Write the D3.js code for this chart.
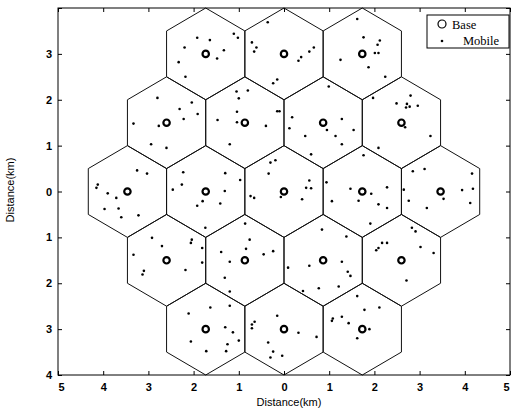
<!DOCTYPE html>
<html>
<head>
<meta charset="utf-8">
<script src="https://cdn.jsdelivr.net/npm/d3@7"></script>
<style>
  body { margin: 0; background: #fff; }
  svg { display: block; }
</style>
</head>
<body>
<div id="chart"></div>
<script>
// base stations (km)
const baseX = [-1.732, 0, 1.732,
               -2.598, -0.866, 0.866, 2.598,
               -3.464, -1.732, 0, 1.732, 3.464,
               -2.598, -0.866, 0.866, 2.598,
               -1.732, 0, 1.732];
const baseY = [3, 3, 3,
               1.5, 1.5, 1.5, 1.5,
               0, 0, 0, 0, 0,
               -1.5, -1.5, -1.5, -1.5,
               -3, -3, -3];
const cellRadius = 1;

// mobiles (km)
const mobileX = [-1.92,-1.64,-2.20,-1.11,-1.02,-1.33,-1.48,-2.33,-2.18,
  -0.36,-0.71,-0.61,-0.66,0.66,0.56,0.38,0.32,-0.15,-0.24,
  1.62,1.76,2.12,2.07,2.01,2.09,1.25,1.87,2.24,
  -2.80,-2.04,-2.31,-1.91,-2.22,-3.33,-2.77,
  -1.05,-0.80,-1.00,-1.04,-0.15,-0.10,-1.47,-1.04,-0.40,
  0.99,0.18,1.28,0.12,0.95,1.54,
  1.97,2.80,2.49,2.72,2.78,2.96,2.70,2.68,
  -2.94,-2.60,-1.20,0.47,1.14,1.28,0.60,2.09,1.76,3.24,
  -3.25,-3.03,-4.12,-4.15,-3.90,-3.71,-3.97,-3.66,-3.60,-3.22,
  -2.23,-1.30,-0.97,-2.26,-2.46,-1.31,-1.80,-1.92,-1.41,
  -0.30,-0.19,-0.34,0.56,0.49,0.60,-0.74,-0.66,-0.07,0.40,
  0.94,1.47,2.28,1.93,1.65,1.06,2.09,2.28,
  2.85,3.11,4.16,2.65,3.94,4.18,2.76,3.53,4.12,3.16,
  -1.74,-0.86,0.84,1.38,1.91,2.83,2.91,
  -2.92,-2.70,-2.04,-2.06,-1.81,-1.39,-0.76,-0.84,-0.24,
  2.17,2.28,2.09,2.04,3.02,3.31,
  -3.33,-3.10,-3.13,-2.18,-1.81,-1.20,-0.45,-1.31,-1.20,
  0.09,0.56,1.28,1.41,1.47,0.42,0.77,1.21,2.71,
  -1.63,-1.20,-2.11,-1.30,-1.13,-1.00,-2.06,-1.25,-1.72,-1.28,
  -0.15,-0.71,-0.65,-0.71,0.32,0.72,-0.35,-0.24,-0.30,-0.04,
  1.62,2.11,1.78,1.08,1.06,1.28,1.43,1.89,1.62];
const mobileY = [3.35,3.30,3.14,3.44,3.35,3.08,2.90,2.82,2.50,
  3.69,3.25,3.14,3.05,3.14,3.05,2.93,2.85,2.44,2.36,
  3.76,3.36,3.29,3.20,3.02,3.02,2.87,2.71,2.50,
  2.04,1.94,1.80,1.69,1.58,1.48,1.43,
  2.18,2.20,2.03,1.74,1.75,1.75,1.56,1.51,1.43,
  2.29,1.62,1.58,1.38,1.34,1.34,
  2.04,2.09,1.92,1.91,1.85,1.87,1.83,1.40,
  1.03,0.95,1.03,1.21,1.21,1.03,0.81,0.95,0.79,1.21,
  0.46,0.39,0.15,0.08,-0.04,-0.14,-0.38,-0.37,-0.56,-0.52,
  0.42,0.40,0.25,0.15,0.04,0.01,-0.21,-0.31,-0.26,
  0.63,0.68,0.39,0.24,0.08,0.07,-0.10,-0.14,-0.12,-0.17,
  0.20,0.06,0.09,-0.05,-0.20,-0.21,-0.28,-0.36,
  0.44,0.49,0.39,0.04,0.03,0.06,-0.20,-0.16,-0.25,-0.36,
  -0.79,-0.70,-0.83,-0.98,-0.70,-0.79,-0.87,
  -1.01,-1.19,-1.05,-1.12,-1.23,-1.32,-1.05,-1.25,-1.30,
  -1.12,-1.12,-1.23,-1.28,-1.21,-1.34,
  -1.38,-1.73,-1.81,-1.71,-1.55,-1.53,-1.37,-1.88,-2.18,
  -1.66,-1.62,-1.53,-1.75,-1.84,-2.17,-2.11,-2.07,-1.94,
  -2.53,-2.49,-2.66,-2.96,-3.07,-3.25,-3.27,-3.33,-3.48,-3.48,
  -2.71,-2.90,-2.84,-2.98,-3.08,-3.17,-3.29,-3.49,-3.62,-3.58,
  -2.28,-2.53,-2.58,-2.77,-2.82,-2.73,-2.87,-3.00,-3.20];

const xTicks = [-5, -4, -3, -2, -1, 0, 1, 2, 3, 4, 5];
const yTicks = [-4, -3, -2, -1, 0, 1, 2, 3, 4];
const legendLabels = ["Base", "Mobile"];

const width = 511, height = 412;
const margin = {left: 58, right: 1, top: 8, bottom: 37};

const svg = d3.select("#chart").append("svg")
  .attr("width", width).attr("height", height);

const x = d3.scaleLinear().domain([-5, 5]).range([margin.left, width - margin.right]);
const y = d3.scaleLinear().domain([-4, 4]).range([height - margin.bottom, margin.top]);

// hexagon cells
const hexPoints = (cx, cy) => d3.range(6).map(k => {
  const a = Math.PI / 2 + k * Math.PI / 3;
  return [x(cx + cellRadius * Math.cos(a)), y(cy + cellRadius * Math.sin(a))];
});
const bases = baseX.map((bx, i) => ({x: bx, y: baseY[i]}));

svg.append("g").selectAll("polygon")
  .data(bases)
  .enter().append("polygon")
  .attr("points", d => hexPoints(d.x, d.y).map(p => p.join(",")).join(" "))
  .attr("fill", "none")
  .attr("stroke", "#111")
  .attr("stroke-width", 1);

// mobiles
svg.append("g").selectAll("circle")
  .data(mobileX.map((mx, i) => ({x: mx, y: mobileY[i]})))
  .enter().append("circle")
  .attr("cx", d => x(d.x))
  .attr("cy", d => y(d.y))
  .attr("r", 1.3)
  .attr("fill", "#000");

// base stations
svg.append("g").selectAll("circle")
  .data(bases)
  .enter().append("circle")
  .attr("cx", d => x(d.x))
  .attr("cy", d => y(d.y))
  .attr("r", 3.2)
  .attr("fill", "none")
  .attr("stroke", "#000")
  .attr("stroke-width", 2.2);

// axes (box with inward ticks, labels show distance from centre)
const fmt = d => String(Math.abs(d));
const xb = height - margin.bottom;
const xr = width - margin.right;

svg.append("g")
  .attr("transform", `translate(0,${xb})`)
  .call(d3.axisBottom(x).tickValues(xTicks).tickSizeInner(-4).tickSizeOuter(0).tickPadding(8).tickFormat(fmt))
  .call(g => g.select(".domain").remove())
  .call(g => g.selectAll(".tick text")
    .attr("dx", d => d === -5 ? 3 : d === 5 ? -4 : 0));
svg.append("g")
  .attr("transform", `translate(0,${margin.top})`)
  .call(d3.axisTop(x).tickValues(xTicks).tickSizeInner(-4).tickSizeOuter(0).tickFormat(""))
  .call(g => g.select(".domain").remove());
svg.append("g")
  .attr("transform", `translate(${margin.left},0)`)
  .call(d3.axisLeft(y).tickValues(yTicks).tickSizeInner(-4).tickSizeOuter(0).tickPadding(6)
    .tickFormat(d => d === 4 ? "" : fmt(d)))
  .call(g => g.select(".domain").remove());
svg.append("g")
  .attr("transform", `translate(${xr},0)`)
  .call(d3.axisRight(y).tickValues(yTicks).tickSizeInner(-4).tickSizeOuter(0).tickFormat(""))
  .call(g => g.select(".domain").remove());

svg.selectAll(".tick line").attr("stroke", "#000");
svg.selectAll(".tick text")
  .attr("font-family", "Liberation Sans, Arial, sans-serif")
  .attr("font-size", 11)
  .attr("font-weight", "bold")
  .attr("fill", "#000");

svg.append("rect")
  .attr("x", margin.left).attr("y", margin.top)
  .attr("width", xr - margin.left).attr("height", xb - margin.top)
  .attr("fill", "none").attr("stroke", "#000").attr("stroke-width", 1);

svg.append("text")
  .attr("x", 289).attr("y", 406)
  .attr("text-anchor", "middle")
  .attr("font-family", "Liberation Sans, Arial, sans-serif")
  .attr("font-size", 11)
  .text("Distance(km)");
svg.append("text")
  .attr("transform", "translate(14,190) rotate(-90)")
  .attr("text-anchor", "middle")
  .attr("font-family", "Liberation Sans, Arial, sans-serif")
  .attr("font-size", 11)
  .text("Distance(km)");

// legend
const lg = svg.append("g").attr("transform", "translate(427,15)");
lg.append("rect").attr("width", 82).attr("height", 33)
  .attr("fill", "#fff").attr("stroke", "#000").attr("stroke-width", 1);
lg.append("circle").attr("cx", 15).attr("cy", 9).attr("r", 4)
  .attr("fill", "none").attr("stroke", "#000").attr("stroke-width", 1.2);
lg.append("circle").attr("cx", 15).attr("cy", 26).attr("r", 1.3).attr("fill", "#000");
lg.selectAll("text")
  .data(legendLabels)
  .enter().append("text")
  .attr("x", (d, i) => i === 0 ? 25 : 36)
  .attr("y", (d, i) => i === 0 ? 14 : 30)
  .attr("font-family", "Liberation Serif, Times New Roman, serif")
  .attr("font-size", 12.5)
  .text(d => d);
</script>
</body>
</html>
